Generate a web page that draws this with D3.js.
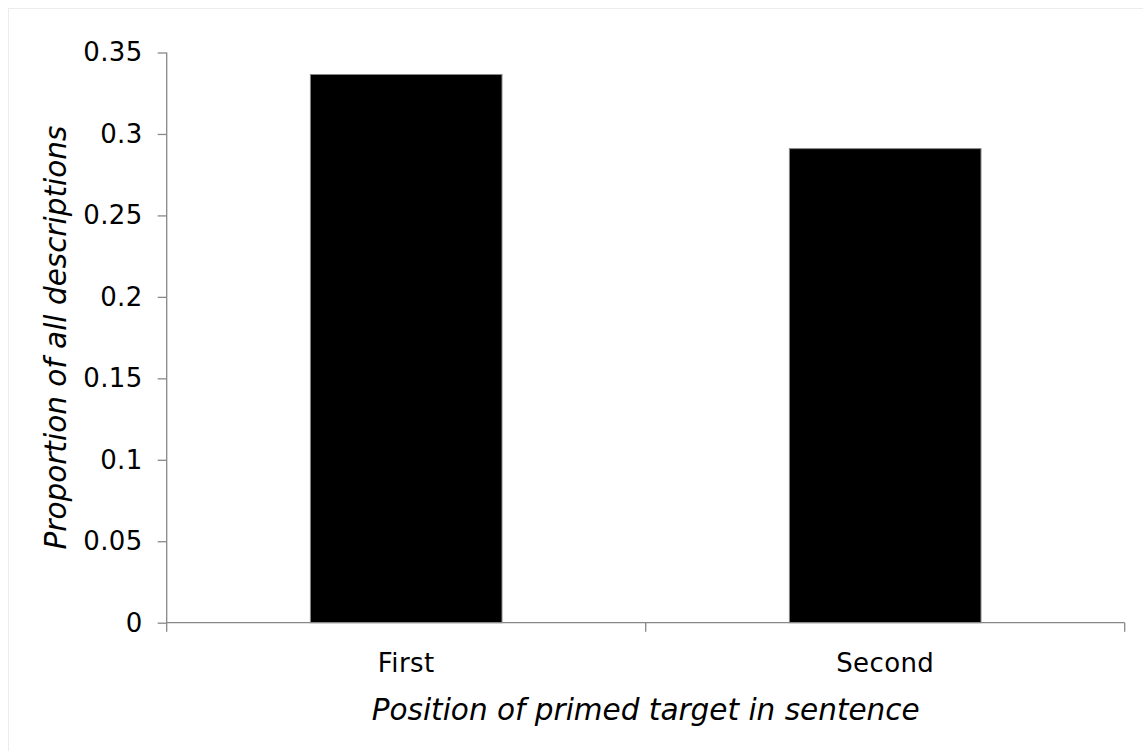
<!DOCTYPE html>
<html>
<head>
<meta charset="utf-8">
<script src="https://cdn.jsdelivr.net/npm/d3@7"></script>
<style>
  html, body { margin: 0; padding: 0; background: #fff; }
  svg { display: block; }
  text { font-family: "DejaVu Sans", Verdana, sans-serif; fill: #000; }
</style>
</head>
<body>
<svg id="chart" width="1143" height="751"></svg>
<script>
const categories = ["First", "Second"];
const values = [0.3365, 0.291];
const yTicks = [0, 0.05, 0.1, 0.15, 0.2, 0.25, 0.3, 0.35];
const yTickLabels = ["0", "0.05", "0.1", "0.15", "0.2", "0.25", "0.3", "0.35"];
const xTitle = "Position of primed target in sentence";
const yTitle = "Proportion of all descriptions";

const svg = d3.select("#chart");
const W = 1143, H = 751;
const m = { left: 166.7, right: 1124.7, top: 52.5, bottom: 622.7 };

// faint outer frame
svg.append("rect").attr("x", 8.5).attr("y", 8.5).attr("width", W).attr("height", H)
  .attr("fill", "none").attr("stroke", "#ececec").attr("stroke-width", 1);

const x = d3.scaleBand().domain(categories).range([m.left, m.right])
  .paddingInner(0.6).paddingOuter(0.3);
const y = d3.scaleLinear().domain([0, 0.35]).range([m.bottom, m.top]);

// bars
svg.append("g").selectAll("rect").data(categories).join("rect")
  .attr("x", d => x(d))
  .attr("y", (d, i) => y(values[i]))
  .attr("width", x.bandwidth())
  .attr("height", (d, i) => y(0) - y(values[i]))
  .attr("fill", "#000")
  .attr("stroke", "#888")
  .attr("stroke-width", 1);

// y axis
const yAxis = d3.axisLeft(y).tickValues(yTicks)
  .tickFormat((d, i) => yTickLabels[i]).tickSize(9).tickPadding(15).tickSizeOuter(0);
const gy = svg.append("g").attr("transform", `translate(${m.left},0)`).call(yAxis);
gy.select(".domain").attr("stroke", "#888").attr("stroke-width", 1.3)
  .attr("d", `M0,${m.top}V${m.bottom + 9}`);
gy.selectAll(".tick line").attr("stroke", "#888").attr("stroke-width", 1.3);
gy.selectAll(".tick text").style("font-family", '"DejaVu Sans", Verdana, sans-serif')
  .style("font-size", "26px").style("letter-spacing", "0.4px").attr("fill", "#000");

// x axis: ticks at category boundaries
const xBound = d3.scaleLinear().domain([0, categories.length]).range([m.left, m.right]);
const gx = svg.append("g").attr("transform", `translate(0,${m.bottom})`);
gx.append("path").attr("d", `M${m.left},0H${m.right}`).attr("stroke", "#888")
  .attr("stroke-width", 1.3).attr("fill", "none");
gx.selectAll("line").data(d3.range(1, categories.length + 1)).join("line")
  .attr("x1", d => xBound(d)).attr("x2", d => xBound(d))
  .attr("y1", 0).attr("y2", 9).attr("stroke", "#888").attr("stroke-width", 1.3);
gx.selectAll("text").data(categories).join("text")
  .attr("x", d => x(d) + x.bandwidth() / 2).attr("y", 49)
  .attr("text-anchor", "middle").style("font-size", "26px").style("letter-spacing", "0.4px")
  .text(d => d);

// axis titles
svg.append("text").attr("x", (m.left + m.right) / 2).attr("y", 720)
  .attr("text-anchor", "middle").style("font-size", "29.5px").style("font-style", "italic")
  .text(xTitle);
svg.append("text").attr("transform", `translate(66,${(m.top + m.bottom) / 2}) rotate(-90)`)
  .attr("text-anchor", "middle").style("font-size", "29.5px").style("font-style", "italic")
  .text(yTitle);
</script>
</body>
</html>
